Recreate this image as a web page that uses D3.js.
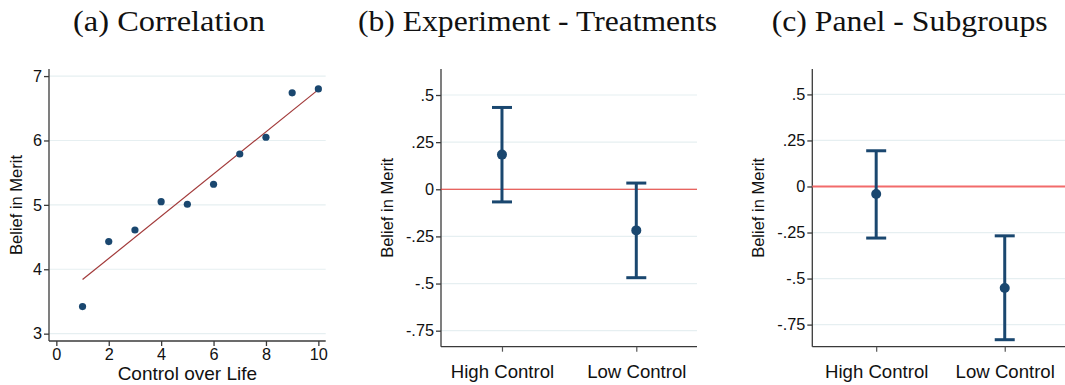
<!DOCTYPE html>
<html>
<head>
<meta charset="utf-8">
<script src="https://cdn.jsdelivr.net/npm/d3@7"></script>
<style>
  body { margin: 0; background: #fff; }
  svg { display: block; }
  .tick text { font-family: "Liberation Sans", Arial, sans-serif; fill: #111; }
</style>
</head>
<body>
<div id="chart"></div>
<script>
// panel (a): binned scatter
const controlLevels = [1, 2, 3, 4, 5, 6, 7, 8, 9, 10];
const meritMeans = [3.42, 4.43, 4.61, 5.05, 5.01, 5.32, 5.79, 6.05, 6.74, 6.80];
const fitX = [1, 10];
const fitY = [3.84, 6.79];
const aXTicks = [0, 2, 4, 6, 8, 10];
const aYTicks = [3, 4, 5, 6, 7];

// panels (b) and (c): point estimates with 95% CIs
const groups = ['High Control', 'Low Control'];
const expEst = [0.184, -0.218];
const expLow = [-0.067, -0.469];
const expHigh = [0.434, 0.033];
const panelEst = [-0.041, -0.551];
const panelLow = [-0.280, -0.832];
const panelHigh = [0.194, -0.268];
const coefTicks = [0.5, 0.25, 0, -0.25, -0.5, -0.75];

const titles = ['(a) Correlation', '(b) Experiment - Treatments', '(c) Panel - Subgroups'];

const W = 1065, H = 385;
const navy = '#1a476f';
const gridCol = '#e6eff1';
const axisCol = '#3a3a3a';
const sans = '"Liberation Sans", Arial, sans-serif';

const svg = d3.select('#chart').append('svg')
  .attr('width', W).attr('height', H);

const fmtCoef = v => v === 0 ? '0' : String(v).replace('0.', '.');

function frame(box, x, y, yTicks, yFmt) {
  const g = svg.append('g');
  // grid
  g.selectAll('.grid').data(yTicks).enter().append('line')
    .attr('x1', box.left).attr('x2', box.right)
    .attr('y1', d => y(d)).attr('y2', d => y(d))
    .style('stroke', gridCol).style('stroke-width', 1.2);
  const ya = g.append('g').attr('transform', `translate(${box.left},0)`)
    .call(d3.axisLeft(y).tickValues(yTicks).tickFormat(yFmt).tickSizeOuter(0).tickSize(5).tickPadding(2));
  ya.selectAll('text').style('font-size', '16.3px');
  ya.select('.domain').attr('d', `M0,${box.top}V${box.bottom}`);
  ya.selectAll('path, line').style('stroke', axisCol).style('stroke-width', 1.3);
  // bottom line
  g.append('line')
    .attr('x1', box.left).attr('x2', box.right)
    .attr('y1', box.bottom).attr('y2', box.bottom)
    .style('stroke', axisCol).style('stroke-width', 1.3);
  // y title
  g.append('text')
    .attr('transform', `translate(${box.yTitleX},${(box.top + box.bottom) / 2}) rotate(-90)`)
    .attr('text-anchor', 'middle').attr('dy', '0.35em')
    .style('font-family', sans).style('font-size', '16.5px').style('fill', '#111')
    .text('Belief in Merit');
  // panel title
  svg.append('text')
    .attr('x', box.titleX - box.titleW / 2).attr('y', 31)
    .attr('textLength', box.titleW).attr('lengthAdjust', 'spacingAndGlyphs')
    .style('font-family', '"Liberation Serif", "Times New Roman", serif')
    .style('font-size', '29px').style('fill', '#111')
    .text(box.title);
  return g;
}

// ---- panel (a)
{
  const box = { left: 49, right: 325.7, top: 69, bottom: 341, yTitleX: 16, titleX: 169, titleW: 192, title: titles[0] };
  const x = d3.scaleLinear().domain([-0.28, 10.28]).range([box.left, box.right]);
  const y = d3.scaleLinear().domain([2.886, 7.11]).range([box.bottom, box.top]);
  const g = frame(box, x, y, aYTicks, d3.format('d'));
  const xa = g.append('g').attr('transform', `translate(0,${box.bottom})`)
    .call(d3.axisBottom(x).tickValues(aXTicks).tickFormat(d3.format('d')).tickSizeOuter(0).tickSize(5).tickPadding(2));
  xa.select('.domain').remove();
  xa.selectAll('line').style('stroke', axisCol).style('stroke-width', 1.3);
  xa.selectAll('text').style('font-size', '16.3px');
  g.append('text')
    .attr('x', (box.left + box.right) / 2).attr('y', 380)
    .attr('text-anchor', 'middle')
    .style('font-family', sans).style('font-size', '19px').style('fill', '#111')
    .text('Control over Life');
  g.append('line')
    .attr('x1', x(fitX[0])).attr('y1', y(fitY[0]))
    .attr('x2', x(fitX[1])).attr('y2', y(fitY[1]))
    .style('stroke', '#a23a3a').style('stroke-width', 1.2);
  g.selectAll('.pt').data(controlLevels).enter().append('circle')
    .attr('cx', d => x(d)).attr('cy', (d, i) => y(meritMeans[i]))
    .attr('r', 3.6).style('fill', navy);
}

// ---- panels (b), (c)
function coefPanel(box, yDomain, xDomain, est, lo, hi, zeroStyle) {
  const x = d3.scaleLinear().domain(xDomain).range([box.left, box.right]);
  const y = d3.scaleLinear().domain(yDomain).range([box.bottom, box.top]);
  const g = frame(box, x, y, coefTicks, fmtCoef);
  g.append('line')
    .attr('x1', box.left).attr('x2', box.right)
    .attr('y1', y(0)).attr('y2', y(0))
    .style('stroke', zeroStyle.color).style('stroke-width', zeroStyle.width);
  const xa = g.append('g').attr('transform', `translate(0,${box.bottom})`)
    .call(d3.axisBottom(x).tickValues([1, 2]).tickFormat((d, i) => groups[i]).tickSizeOuter(0).tickSize(5).tickPadding(13));
  xa.select('.domain').remove();
  xa.selectAll('line').style('stroke', '#555').style('stroke-width', 1.2);
  xa.selectAll('text').style('font-size', '18.6px');
  const bars = g.selectAll('.ci').data(groups).enter().append('g');
  bars.append('line')
    .attr('x1', (d, i) => x(i + 1)).attr('x2', (d, i) => x(i + 1))
    .attr('y1', (d, i) => y(lo[i])).attr('y2', (d, i) => y(hi[i]))
    .style('stroke', navy).style('stroke-width', 3);
  [lo, hi].forEach(arr => {
    bars.append('line')
      .attr('x1', (d, i) => x(i + 1) - 10).attr('x2', (d, i) => x(i + 1) + 10)
      .attr('y1', (d, i) => y(arr[i])).attr('y2', (d, i) => y(arr[i]))
      .style('stroke', navy).style('stroke-width', 3);
  });
  bars.append('circle')
    .attr('cx', (d, i) => x(i + 1)).attr('cy', (d, i) => y(est[i]))
    .attr('r', 5).style('fill', navy);
}

coefPanel({ left: 441, right: 697, top: 69, bottom: 346.7, yTitleX: 387, titleX: 537.5, titleW: 359, title: titles[1] },
  [-0.835, 0.638], [0.546, 2.452], expEst, expLow, expHigh, { color: '#e8362e', width: 1.1 });

coefPanel({ left: 812.3, right: 1069, top: 69, bottom: 346.7, yTitleX: 758.5, titleX: 909.7, titleW: 276, title: titles[2] },
  [-0.87, 0.638], [0.503, 2.5], panelEst, panelLow, panelHigh, { color: '#f26b6b', width: 2 });
</script>
</body>
</html>
